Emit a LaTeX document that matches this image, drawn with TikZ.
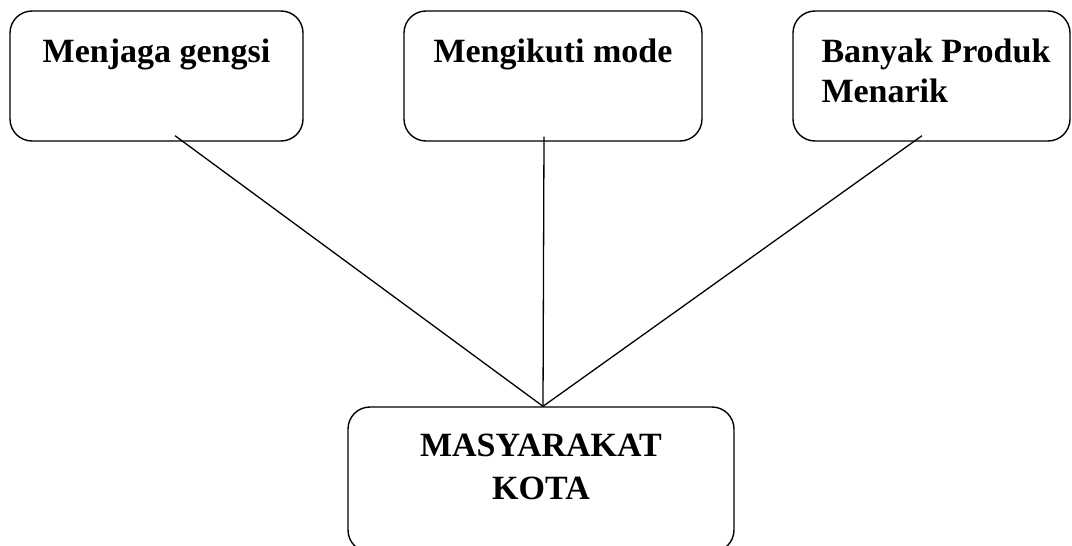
\documentclass[tikz,border=0pt]{standalone}
\usepackage{fontspec}
\setmainfont{Liberation Serif}
\usepackage{tikz}
\usetikzlibrary{positioning}

\begin{document}
\begin{tikzpicture}[
        x=1pt, y=-1pt,
        box/.style={draw, rectangle, rounded corners=22pt, line width=1.4pt, inner sep=0pt},
        lbl/.style={inner sep=0pt, font=\fontsize{34}{40}\selectfont\bfseries},
        link/.style={line width=1.3pt}
    ]
    \clip (0,0) rectangle (1072,546);
    \node[box, minimum width=293pt, minimum height=130pt] (gengsi) at (156.5,76) {};
    \node[box, minimum width=298pt, minimum height=130pt] (mode) at (553,76) {};
    \node[box, minimum width=277pt, minimum height=130pt] (produk) at (931.5,76) {};
    \node[box, minimum width=386pt, minimum height=145pt] (kota) at (541,479.5) {};

    \node[lbl, below=28pt of gengsi.north] (gengsitxt) {Menjaga gengsi};
    \node[lbl, below=28pt of mode.north] (modetxt) {Mengikuti mode};
    \node[lbl, align=left, below right=28pt and 29pt of produk.north west] (produktxt) {Banyak Produk\\Menarik};
    \node[lbl, align=center, below=27.5pt of kota.north] (kotatxt) {MASYARAKAT\\[3pt]KOTA};

    \coordinate (meet) at ([xshift=2pt]kota.north);
    \draw[link] ([shift={(18.5,-6)}]gengsi.south) -- (meet);
    \draw[link] ([shift={(-9,-5)}]mode.south) -- (meet);
    \draw[link] ([shift={(-9.5,-6)}]produk.south) -- (meet);
\end{tikzpicture}
\end{document}
